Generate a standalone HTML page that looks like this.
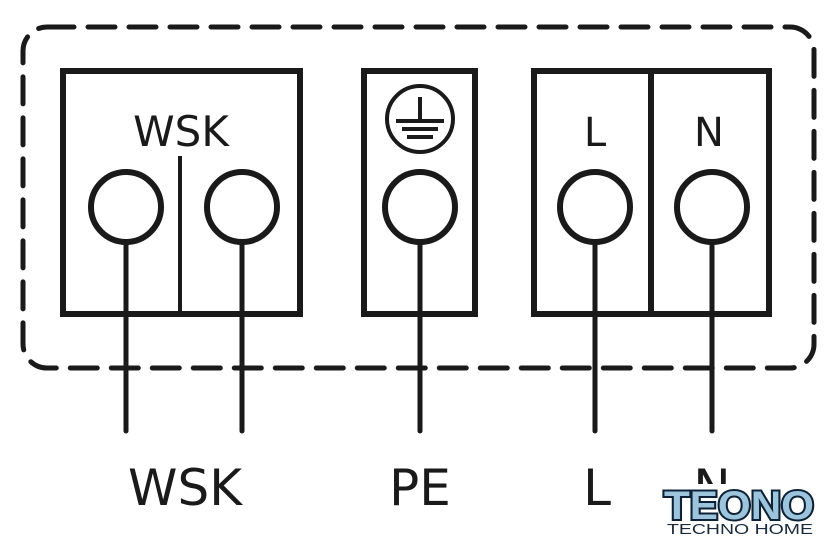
<!DOCTYPE html>
<html><head><style>
html,body{margin:0;padding:0;background:#fff;}
svg{display:block;}
text{font-family:"DejaVu Sans","Liberation Sans",sans-serif;fill:#1a1a1a;}
</style></head><body>
<svg width="840" height="543" viewBox="0 0 840 543" xmlns="http://www.w3.org/2000/svg">
<rect x="23" y="27" width="791" height="341" rx="24" fill="none" stroke="#1a1a1a" stroke-width="5" stroke-dasharray="27 14" stroke-linecap="round"/>
<g fill="none" stroke="#1a1a1a" stroke-width="6">
<rect x="63" y="71" width="237" height="243" fill="#fff"/>
<rect x="364" y="71" width="111" height="243" fill="#fff"/>
<rect x="534" y="71" width="235" height="243" fill="#fff"/>
<line x1="651" y1="71" x2="651" y2="314"/>
<line x1="180" y1="156" x2="180" y2="314" stroke-width="4"/>
<circle cx="126" cy="207" r="35" fill="#fff"/>
<circle cx="242" cy="207" r="35" fill="#fff"/>
<circle cx="420" cy="207" r="35" fill="#fff"/>
<circle cx="595" cy="207" r="35" fill="#fff"/>
<circle cx="712" cy="207" r="35" fill="#fff"/>
<g stroke-width="5" stroke-linecap="round">
<line x1="126" y1="242" x2="126" y2="431"/>
<line x1="242" y1="242" x2="242" y2="431"/>
<line x1="420" y1="242" x2="420" y2="431"/>
<line x1="595" y1="242" x2="595" y2="431"/>
<line x1="712" y1="242" x2="712" y2="431"/>
</g>
<circle cx="420" cy="119" r="33" stroke-width="4"/>
<line x1="420" y1="97" x2="420" y2="121" stroke-width="4"/>
<line x1="396" y1="121" x2="444" y2="121" stroke-width="4"/>
<line x1="402" y1="129" x2="438" y2="129" stroke-width="4"/>
<line x1="407" y1="137" x2="433" y2="137" stroke-width="4"/>
</g>
<text x="181" y="146" font-size="42" text-anchor="middle">WSK</text>
<text x="595" y="146" font-size="40" text-anchor="middle">L</text>
<text x="709" y="146" font-size="40" text-anchor="middle">N</text>
<text x="185" y="505" font-size="50" text-anchor="middle">WSK</text>
<text x="420" y="505" font-size="50" text-anchor="middle">PE</text>
<text x="597" y="505" font-size="50" text-anchor="middle">L</text>
<text x="712" y="505" font-size="50" text-anchor="middle">N</text>
<rect x="660" y="484" width="160" height="59" fill="#fff"/>
<text x="739" y="519" font-size="40" font-weight="bold" text-anchor="middle" style="fill:#9cc4dc;stroke:#0d2236;stroke-width:4;paint-order:stroke;font-family:'Liberation Sans',sans-serif" textLength="150" lengthAdjust="spacingAndGlyphs">TEONO</text>
<text x="740" y="534" font-size="15" text-anchor="middle" style="fill:#1a2a3a;font-family:'Liberation Sans',sans-serif" textLength="146" lengthAdjust="spacingAndGlyphs">TECHNO HOME</text>
</svg>
</body></html>
